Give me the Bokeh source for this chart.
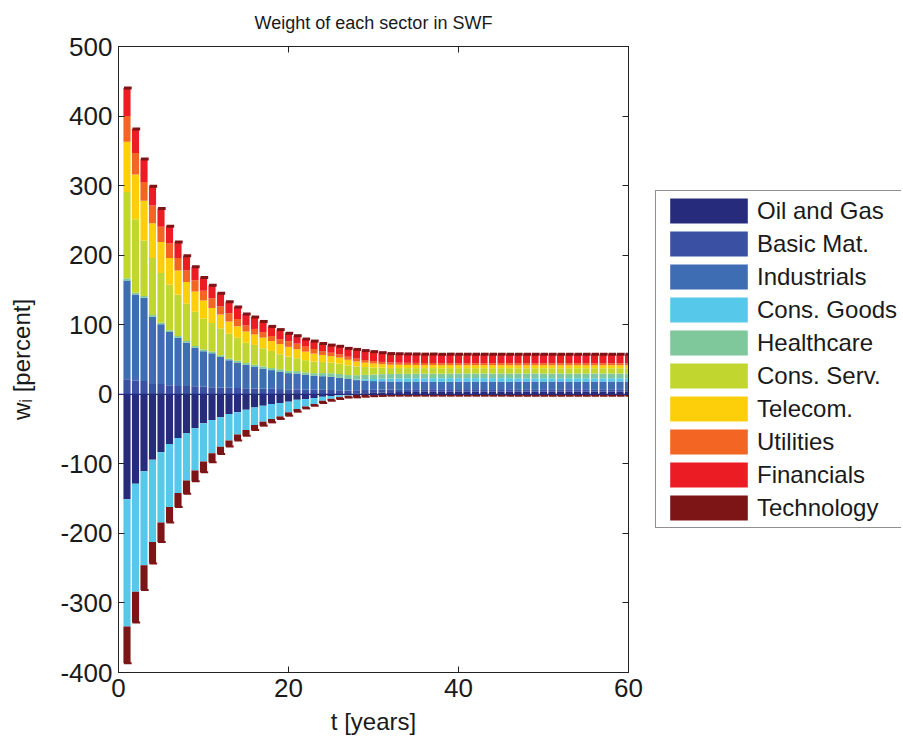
import numpy as np
from bokeh.plotting import figure
from bokeh.layouts import row
from bokeh.models import Range1d, LinearAxis, Legend, LegendItem, Span, FixedTicker
from bokeh.embed import file_html
from bokeh.resources import INLINE

t = list(range(1, 61))

sectors = ["Oil and Gas", "Basic Mat.", "Industrials", "Cons. Goods", "Healthcare",
           "Cons. Serv.", "Telecom.", "Utilities", "Financials", "Technology"]
colors = ["#272b7b", "#3a51a3", "#3f6db4", "#56c8ea", "#7fc89c",
          "#c1d72f", "#fdcf0a", "#f26522", "#ec1c24", "#7d1416"]

oil_gas = [-151, -128.7, -110.6, -94.3, -83.3, -71.4, -62.8, -55.6, -49, -41.8,
           -37, -33, -28.4, -26, -22.2, -18.9, -16.5, -14, -12.6, -10.7,
           -7.9, -6.9, -5.4, -3.6, -2.5, -1.5, -0.8, 0.8, 1.5, 2.0,
           2.6, 3.0, 3.2, 3.3, 3.4, 3.5, 3.5, 3.5, 3.6, 3.6,
           3.6, 3.6, 3.6, 3.6, 3.6, 3.6, 3.6, 3.6, 3.6, 3.6,
           3.6, 3.6, 3.6, 3.6, 3.6, 3.6, 3.6, 3.6, 3.6, 3.6]
basic_mat = [21.7, 19.3, 19.0, 14.6, 14.6, 13.0, 12.0, 12.0, 11.5, 11.0,
             10.0, 9.7, 9.5, 9.0, 8.5, 8.3, 8.0, 7.8, 7.5, 7.2,
             7.0, 6.8, 6.6, 6.4, 6.2, 5.8, 5.4, 5.0, 4.7, 4.4,
             4.2, 4.0, 3.95, 3.9, 3.9, 3.85, 3.85, 3.8, 3.8, 3.8,
             3.8, 3.8, 3.8, 3.8, 3.8, 3.8, 3.8, 3.8, 3.8, 3.8,
             3.8, 3.8, 3.8, 3.8, 3.8, 3.8, 3.8, 3.8, 3.8, 3.8]
industrials = [142, 124, 119.7, 96.9, 85.9, 76.5, 69.4, 62, 55.5, 51,
               49, 44, 39.5, 36.6, 33.8, 31.5, 29, 26.9, 25.2, 23.2,
               22.8, 21.1, 19.9, 19.6, 19.0, 18.0, 16.6, 14.6, 13.5, 12.6,
               11.9, 11.4, 11.3, 11.2, 11.1, 11.0, 11.0, 10.9, 10.9, 10.9,
               10.9, 10.9, 10.9, 10.9, 10.9, 10.9, 10.9, 10.9, 10.9, 10.9,
               10.9, 10.9, 10.9, 10.9, 10.9, 10.9, 10.9, 10.9, 10.9, 10.9]
cons_goods = [-183, -155.3, -135.1, -118, -101.2, -90.6, -79.2, -68.4, -60.6, -54.9,
              -47.8, -42.4, -38.2, -32, -29.1, -25.1, -22.9, -21.5, -19.2, -15.3,
              -13.3, -10.6, -8.6, -5.7, -4.0, -2.5, -1.3, 1.0, 2.0, 3.0,
              3.7, 4.2, 4.4, 4.5, 4.6, 4.7, 4.8, 4.8, 4.9, 4.9,
              4.9, 4.9, 4.9, 4.9, 4.9, 4.9, 4.9, 4.9, 4.9, 4.9,
              4.9, 4.9, 4.9, 4.9, 4.9, 4.9, 4.9, 4.9, 4.9, 4.9]
healthcare = [3.0, 2.5, 2.5, 2.5, 2.5, 2.5, 2.5, 2.5, 2.5, 2.5,
              2.5, 2.5, 2.5, 2.5, 2.7, 2.8, 3.0, 3.0, 3.2, 3.3,
              3.5, 3.6, 3.8, 4.5, 5.0, 5.3, 5.6, 6.0, 6.2, 6.4,
              6.5, 6.5, 6.55, 6.6, 6.6, 6.6, 6.6, 6.6, 6.6, 6.6,
              6.6, 6.6, 6.6, 6.6, 6.6, 6.6, 6.6, 6.6, 6.6, 6.6,
              6.6, 6.6, 6.6, 6.6, 6.6, 6.6, 6.6, 6.6, 6.6, 6.6]
cons_serv = [124, 106, 80, 82, 71.5, 66, 59.6, 53.5, 49, 44.5,
             41, 38.6, 35.5, 33.3, 29.2, 28.4, 26.2, 24.6, 21.7, 20.5,
             18.6, 17.5, 16.7, 16.0, 15.5, 15.0, 14.0, 12.6, 11.2, 10.1,
             9.2, 8.6, 8.3, 8.1, 8.0, 7.9, 7.9, 7.8, 7.8, 7.7,
             7.7, 7.7, 7.7, 7.7, 7.7, 7.7, 7.7, 7.7, 7.7, 7.7,
             7.7, 7.7, 7.7, 7.7, 7.7, 7.7, 7.7, 7.7, 7.7, 7.7]
telecom = [72.5, 64, 57, 50, 44.5, 38, 34.5, 31.6, 29.4, 26,
           21.5, 20, 17.5, 16.5, 16.0, 15.0, 15.2, 14.3, 14.5, 14.0,
           12.9, 12.3, 11.5, 10.0, 9.0, 8.6, 8.0, 7.2, 6.4, 5.8,
           5.2, 4.8, 4.7, 4.6, 4.5, 4.4, 4.4, 4.3, 4.3, 4.3,
           4.3, 4.3, 4.3, 4.3, 4.3, 4.3, 4.3, 4.3, 4.3, 4.3,
           4.3, 4.3, 4.3, 4.3, 4.3, 4.3, 4.3, 4.3, 4.3, 4.3]
utilities = [37, 31, 27, 25.5, 22, 20.6, 18, 16.4, 16, 14,
             14, 11.5, 12, 10.5, 9, 8, 8.1, 7.2, 7.2, 8.1,
             8, 7.2, 6.6, 5.5, 5.0, 4.8, 4.4, 4.0, 3.7, 3.4,
             3.2, 3.1, 3.05, 3.0, 3.0, 2.95, 2.9, 2.9, 2.9, 2.9,
             2.9, 2.9, 2.9, 2.9, 2.9, 2.9, 2.9, 2.9, 2.9, 2.9,
             2.9, 2.9, 2.9, 2.9, 2.9, 2.9, 2.9, 2.9, 2.9, 2.9]
financials = [40, 34.7, 33, 27.5, 26, 25, 23, 21, 19.5, 19,
              18.6, 19, 16.4, 17, 16.2, 17, 15.2, 13.8, 13.7, 11.4,
              11.4, 10.9, 11.4, 11.0, 11.0, 11.5, 12.0, 13.3, 13.6, 13.6,
              13.3, 12.9, 12.8, 12.8, 12.8, 12.8, 12.9, 12.9, 12.9, 12.9,
              12.9, 12.9, 12.9, 12.9, 12.9, 12.9, 12.9, 12.9, 12.9, 12.9,
              12.9, 12.9, 12.9, 12.9, 12.9, 12.9, 12.9, 12.9, 12.9, 12.9]
technology = [-52.6, -44, -35.8, -31, -27.8, -22.5, -20, -19, -15.4, -15.3,
              -12.8, -10.6, -8.6, -8.6, -8.2, -7.3, -5.7, -4.9, -3.7, -4.8,
              -3.8, -2.8, -2.5, -3.3, -2.8, -2.8, -2.6, -4.4, -3.5, -2.8,
              -2.4, -2.0, -2.0, -2.0, -2.0, -2.0, -2.0, -2.0, -2.0, -2.0,
              -2.0, -2.0, -2.0, -2.0, -2.0, -2.0, -2.0, -2.0, -2.0, -2.0,
              -2.0, -2.0, -2.0, -2.0, -2.0, -2.0, -2.0, -2.0, -2.0, -2.0]

series = [oil_gas, basic_mat, industrials, cons_goods, healthcare,
          cons_serv, telecom, utilities, financials, technology]

y_ticks = [-400, -300, -200, -100, 0, 100, 200, 300, 400, 500]
y_tick_labels = ["-400", "-300", "-200", "-100", "0", "100", "200", "300", "400", "500"]
x_ticks = [0, 20, 40, 60]
x_tick_labels = ["0", "20", "40", "60"]

FONT = "Liberation Sans"
TXT = "#1a1a1a"
H = 740

p = figure(width=655, height=H,
           min_border_left=118, min_border_right=27, min_border_top=46, min_border_bottom=68,
           x_range=Range1d(0, 60), y_range=Range1d(-400, 500),
           output_backend="svg", toolbar_location=None,
           title="Weight of each sector in SWF")
p.title.align = "center"
p.title.text_font = FONT
p.title.text_font_size = "18px"
p.title.text_font_style = "normal"
p.title.text_color = TXT
p.title.vertical_align = "top"
p.title.standoff = 24

p.xgrid.visible = False
p.ygrid.visible = False
p.outline_line_color = "#222222"
p.background_fill_color = "white"
p.border_fill_color = "white"

bottom_ax = p.below[0]
left_ax = p.left[0]


def style_axis(ax, ticks, labels=None):
    ax.ticker = FixedTicker(ticks=ticks)
    ax.major_tick_in = 6
    ax.major_tick_out = 0
    ax.minor_tick_line_color = None
    ax.axis_line_color = "#222222"
    ax.major_tick_line_color = "#222222"
    ax.major_label_text_font = FONT
    ax.major_label_text_color = TXT
    if labels is not None:
        ax.major_label_overrides = {tk: lb for tk, lb in zip(ticks, labels)}
        ax.major_label_text_font_size = "26px"
        ax.major_label_standoff = 6
    else:
        ax.major_label_overrides = {tk: "" for tk in ticks}
        ax.major_label_text_font_size = "1px"
        ax.major_label_standoff = 0


style_axis(bottom_ax, x_ticks, x_tick_labels)
style_axis(left_ax, y_ticks, y_tick_labels)
top_ax = LinearAxis()
right_ax = LinearAxis()
style_axis(top_ax, x_ticks)
style_axis(right_ax, y_ticks)
p.add_layout(top_ax, "above")
p.add_layout(right_ax, "right")

bottom_ax.axis_label = "t [years]"
bottom_ax.axis_label_text_font = FONT
bottom_ax.axis_label_text_font_size = "24px"
bottom_ax.axis_label_text_font_style = "normal"
bottom_ax.axis_label_text_color = TXT
bottom_ax.axis_label_standoff = 8

left_ax.axis_label = "w\u1d62 [percent]"
left_ax.axis_label_text_font = FONT
left_ax.axis_label_text_font_size = "24px"
left_ax.axis_label_text_font_style = "normal"
left_ax.axis_label_text_color = TXT
left_ax.axis_label_standoff = 22

x = np.array(t, dtype=float)
pos_base = np.zeros(len(t))
neg_base = np.zeros(len(t))
for name, col, vals in zip(sectors, colors, series):
    v = np.array(vals, dtype=float)
    bottom = np.where(v >= 0, pos_base, neg_base + v)
    top = np.where(v >= 0, pos_base + v, neg_base)
    p.vbar(x=x, bottom=bottom, top=top, width=0.84, fill_color=col, line_color=None)
    pos_base = pos_base + np.where(v > 0, v, 0)
    neg_base = neg_base + np.where(v < 0, v, 0)

# thin dark caps (edge shading) at the ends of each stack
p.rect(x=x + 0.1, y=pos_base, width=0.9, height=3, height_units="screen",
       fill_color=colors[-1], line_color=None)
p.rect(x=x + 0.1, y=neg_base, width=0.9, height=2, height_units="screen",
       fill_color=colors[-1], line_color=None)

p.add_layout(Span(location=0, dimension="width", line_color=colors[0], line_width=1.2))

# legend panel (separate figure, to the right of the axes)
lg = figure(width=246, height=H, min_border=0, x_range=Range1d(0, 1), y_range=Range1d(0, 1),
            x_axis_type=None, y_axis_type=None, output_backend="svg", toolbar_location=None,
            outline_line_color=None)
lg.xgrid.visible = False
lg.ygrid.visible = False
lg.background_fill_color = "white"
lg.border_fill_color = "white"
items = []
for name, col in zip(sectors, colors):
    # hidden proxy renderer (outside the visible range) used only for the legend swatch
    r = lg.vbar(x=[-5], bottom=[0], top=[0], width=0.5, fill_color=col, line_color=None)
    items.append(LegendItem(label=name, renderers=[r]))

legend = Legend(items=items, location=(0, 144))
legend.glyph_width = 97
legend.glyph_height = 31
legend.label_height = 31
legend.spacing = 2
legend.padding = 4
legend.margin = 0
legend.label_standoff = 0
legend.label_text_font = FONT
legend.label_text_font_size = "24px"
legend.label_text_color = TXT
legend.label_text_baseline = "middle"
legend.border_line_color = "#222222"
legend.border_line_width = 1
legend.background_fill_color = "white"
legend.background_fill_alpha = 1.0
lg.add_layout(legend)

layout = row(p, lg)
open("out.html", "w").write(file_html(layout, INLINE))
